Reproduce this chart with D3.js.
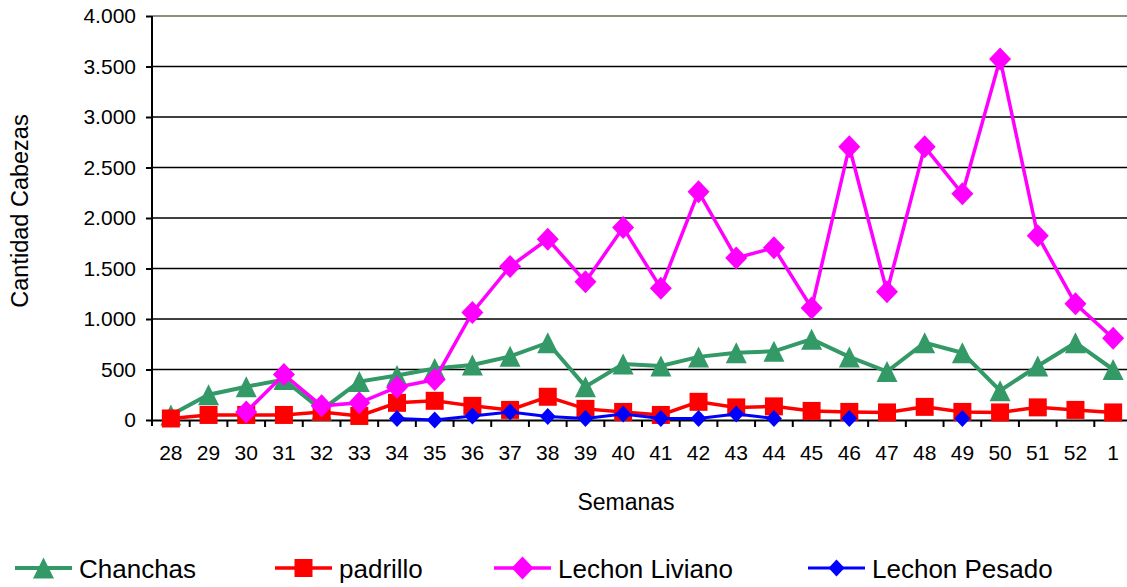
<!DOCTYPE html>
<html>
<head>
<meta charset="utf-8">
<script src="https://cdn.jsdelivr.net/npm/d3@7"></script>
<style>
  html, body { margin: 0; padding: 0; background: #fff; }
  svg { display: block; font-family: "Liberation Sans", Arial, sans-serif; }
</style>
</head>
<body>
<svg id="chart" width="1127" height="587"></svg>
<script>
const weeks = ["28","29","30","31","32","33","34","35","36","37","38","39","40","41","42","43","44","45","46","47","48","49","50","51","52","1"];
const chanchas = [50,250,330,400,100,380,440,510,545,630,765,330,555,535,625,665,680,800,625,480,765,665,290,535,765,500];
const padrillo = [15,50,50,50,80,40,170,190,140,100,230,110,80,50,180,125,135,90,80,75,130,80,75,125,100,75];
const lechonLiviano = [null,null,80,450,140,170,325,400,1065,1520,1790,1370,1905,1305,2260,1605,1705,1110,2705,1270,2705,2240,3575,1825,1150,810];
const lechonPesado = [null,null,null,null,null,null,15,0,40,80,35,15,60,15,15,60,15,null,15,null,null,15,null,null,null,null];
const yTicks = [0,500,1000,1500,2000,2500,3000,3500,4000];
const seriesNames = ["Chanchas","padrillo","Lechon Liviano","Lechon Pesado"];

const svg = d3.select("#chart");
const M = {left: 152, top: 16, bottom: 420, right: 1132};

const x = d3.scaleBand().domain(weeks).range([M.left, M.right]).padding(0);
const y = d3.scaleLinear().domain([0, 4000]).range([M.bottom, M.top]);
const loc = d3.formatLocale({decimal: ",", thousands: ".", grouping: [3], currency: ["", ""]});
const fmt = loc.format(",");

// gridlines
svg.append("g").selectAll("line").data(yTicks.filter(t => t > 0 && t < 4000)).join("line")
  .attr("x1", M.left).attr("x2", M.right)
  .attr("y1", d => y(d)).attr("y2", d => y(d))
  .attr("stroke", "#000").attr("stroke-width", 1.6);
// top border
svg.append("line").attr("x1", M.left).attr("x2", M.right).attr("y1", y(4000)).attr("y2", y(4000))
  .attr("stroke", "#87927f").attr("stroke-width", 2);

// y axis
const yAxis = svg.append("g").attr("transform", `translate(${M.left},0)`)
  .call(d3.axisLeft(y).tickValues(yTicks).tickFormat(fmt).tickSize(6).tickPadding(10));
yAxis.select(".domain").attr("stroke", "#000").attr("stroke-width", 2).attr("d", `M0,${M.bottom + 6}V${M.top}`);
yAxis.selectAll(".tick line").attr("stroke", "#000").attr("stroke-width", 2);
yAxis.selectAll(".tick text").attr("font-size", 21).attr("fill", "#000").attr("font-family", "Liberation Sans, Arial, sans-serif");

// x axis
const xAxis = svg.append("g").attr("transform", `translate(0,${M.bottom})`)
  .call(d3.axisBottom(x).tickSize(0).tickPadding(25));
xAxis.select(".domain").attr("stroke", "#000").attr("stroke-width", 2);
xAxis.selectAll(".tick text").attr("font-size", 21).attr("fill", "#000").attr("font-family", "Liberation Sans, Arial, sans-serif");
// category boundary ticks
svg.append("g").selectAll("line").data(weeks.slice(1)).join("line")
  .attr("x1", d => x(d)).attr("x2", d => x(d))
  .attr("y1", M.bottom).attr("y2", M.bottom + 7)
  .attr("stroke", "#000").attr("stroke-width", 2);

// axis titles
svg.append("text").attr("x", 626).attr("y", 502).attr("text-anchor", "middle").attr("dominant-baseline", "central")
  .attr("font-size", 23).attr("fill", "#000").text("Semanas");
svg.append("text").attr("transform", "translate(20,211) rotate(-90)").attr("text-anchor", "middle").attr("dominant-baseline", "central")
  .attr("font-size", 23.5).attr("fill", "#000").text("Cantidad Cabezas");

// marker shapes
const triPath = (w, h) => `M0,${-h/2}L${w/2},${h/2}L${-w/2},${h/2}Z`;
const sqPath = s => `M${-s/2},${-s/2}h${s}v${s}h${-s}Z`;
const diaPath = (w, h) => `M0,${-h}L${w},0L0,${h}L${-w},0Z`;

const series = [
  {name: seriesNames[0], values: chanchas, color: "#339966", width: 4, marker: triPath(21, 21)},
  {name: seriesNames[1], values: padrillo, color: "#ff0000", width: 3.5, marker: sqPath(18)},
  {name: seriesNames[2], values: lechonLiviano, color: "#ff00ff", width: 3.5, marker: diaPath(11, 11.5)},
  {name: seriesNames[3], values: lechonPesado, color: "#0000ff", width: 3, marker: diaPath(8, 8.5)}
];

const line = d3.line()
  .defined(d => d.v != null)
  .x(d => x(d.w) + x.bandwidth() / 2)
  .y(d => y(d.v));

series.forEach(s => {
  const pts = weeks.map((w, i) => ({w, v: s.values[i]}));
  const g = svg.append("g");
  g.append("path").datum(pts).attr("d", line)
    .attr("fill", "none").attr("stroke", s.color).attr("stroke-width", s.width).attr("stroke-linejoin", "miter");
  g.selectAll("path.m").data(pts.filter(d => d.v != null)).join("path").attr("class", "m")
    .attr("d", s.marker)
    .attr("transform", d => `translate(${x(d.w) + x.bandwidth() / 2},${y(d.v)})`)
    .attr("fill", s.color);
});

// legend
const legX = [15, 275, 494, 808];
const legY = 568;
series.forEach((s, i) => {
  const g = svg.append("g").attr("transform", `translate(${legX[i]},${legY})`);
  g.append("line").attr("x1", 0).attr("x2", 57).attr("y1", 0).attr("y2", 0)
    .attr("stroke", s.color).attr("stroke-width", s.width);
  g.append("path").attr("d", s.marker).attr("transform", "translate(28.5,0)").attr("fill", s.color);
  g.append("text").attr("x", 64).attr("y", 1).attr("dominant-baseline", "central")
    .attr("font-size", 26).attr("fill", "#000").text(s.name);
});
</script>
</body>
</html>
